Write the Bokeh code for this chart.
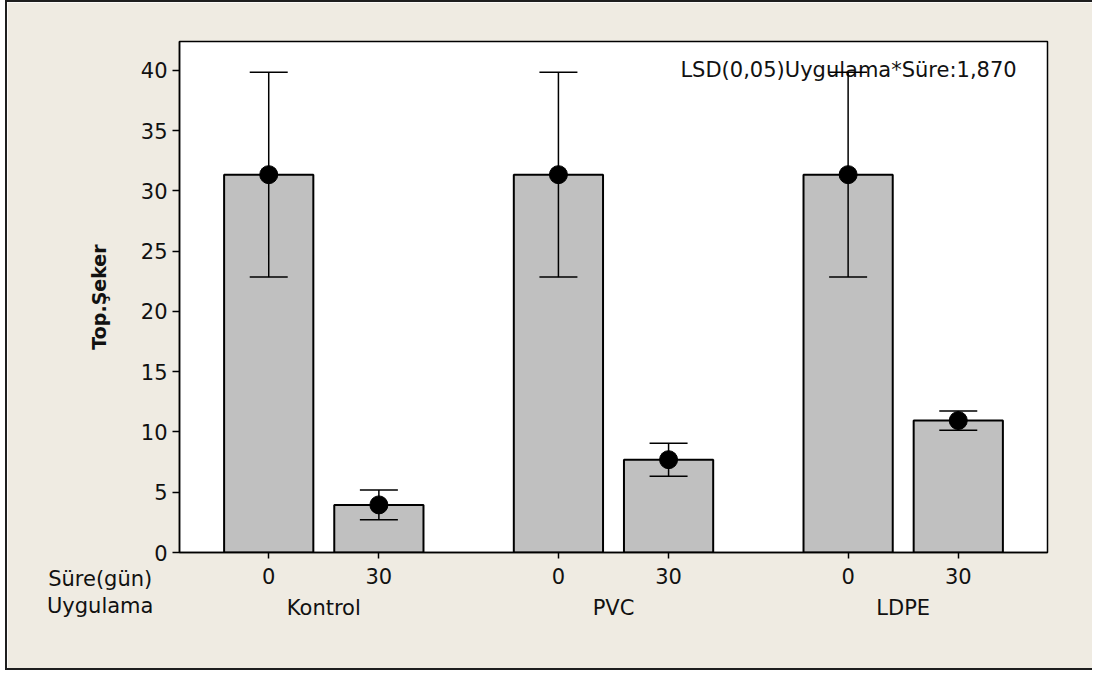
from bokeh.plotting import figure
from bokeh.models import ColumnDataSource, FactorRange, Whisker, TeeHead, Label, Range1d, FixedTicker
from bokeh.core.properties import value
from bokeh.embed import file_html
from bokeh.resources import INLINE

# ---- data ----
uygulama = ["Kontrol", "PVC", "LDPE"]
sure_gun = ["0", "30"]
top_seker = [31.35, 3.95, 31.35, 7.7, 31.35, 10.95]
hata = [8.5, 1.23, 8.5, 1.37, 8.5, 0.8]
y_ticks = [0, 5, 10, 15, 20, 25, 30, 35, 40]
y_label = "Top.Şeker"
row_labels = ["Süre(gün)", "Uygulama"]
lsd_text = "LSD(0,05)Uygulama*Süre:1,870"

factors = [(u, s) for u in uygulama for s in sure_gun]
src = ColumnDataSource(dict(
    x=factors,
    y=top_seker,
    upper=[m + e for m, e in zip(top_seker, hata)],
    lower=[m - e for m, e in zip(top_seker, hata)],
))

BG = "#EFEBE2"
FONT = "DejaVu Sans"
TXT = "#111111"

x_range = FactorRange(*factors, group_padding=0.63, factor_padding=0.0,
                      range_padding=0.31, range_padding_units="absolute")

p = figure(x_range=x_range, y_range=Range1d(0, 42.4),
           width=1087, height=670,
           output_backend="svg", toolbar_location=None,
           background_fill_color="white", border_fill_color=BG,
           min_border_left=172, min_border_right=47,
           min_border_top=39, min_border_bottom=120)
p.styles = {"margin-left": "5px",
            "border-left": "2px solid #1e1e1e",
            "border-top": "2px solid #1e1e1e",
            "border-bottom": "2px solid #1e1e1e"}

p.outline_line_color = "black"
p.outline_line_width = 1.5
p.xgrid.visible = False
p.ygrid.visible = False

p.vbar(x="x", top="y", width=0.81, source=src,
       fill_color="#C0C0C0", line_color="black", line_width=2)

whisker = Whisker(base="x", upper="upper", lower="lower", source=src,
                  level="overlay",
                  line_color="black", line_width=1.5,
                  upper_head=TeeHead(size=38, line_color="black", line_width=1.5),
                  lower_head=TeeHead(size=38, line_color="black", line_width=1.5))
p.add_layout(whisker)

p.scatter(x="x", y="y", size=18, color="black", source=src)

# axes
for ax in (p.xaxis[0], p.yaxis[0]):
    ax.axis_line_color = "black"
    ax.axis_line_width = 1.5
    ax.major_tick_line_color = "black"
    ax.major_tick_line_width = 1.5
    ax.major_tick_in = 0
    ax.minor_tick_line_color = None
    ax.major_label_text_font = FONT
    ax.major_label_text_font_size = "21px"
    ax.major_label_text_color = TXT

p.yaxis.ticker = FixedTicker(ticks=y_ticks)
p.yaxis.major_tick_out = 7
p.yaxis.axis_label = y_label
p.yaxis.axis_label_text_font = FONT
p.yaxis.axis_label_text_font_size = "19px"
p.yaxis.axis_label_text_font_style = "bold"
p.yaxis.axis_label_text_color = TXT
p.yaxis.axis_label_standoff = 28

p.xaxis.major_tick_out = 6
p.xaxis.major_label_standoff = 9
p.xaxis.group_text_font = FONT
p.xaxis.group_text_font_size = "21px"
p.xaxis.group_text_font_style = "normal"
p.xaxis.group_text_color = TXT
p.xaxis.separator_line_color = None

# row captions to the left of the category label rows
p.text(x=[-1.03, -1.03], y=[-2.2, -4.4], text=row_labels, level="overlay",
       text_align="center", text_baseline="middle", text_font=value(FONT),
       text_font_size="21px", text_color=TXT)

p.add_layout(Label(x=7.29, y=40.0, text=lsd_text, text_align="right",
                   text_baseline="alphabetic", text_font=FONT,
                   text_font_size="21px", text_color=TXT))

open("out.html", "w").write(file_html(p, INLINE))
